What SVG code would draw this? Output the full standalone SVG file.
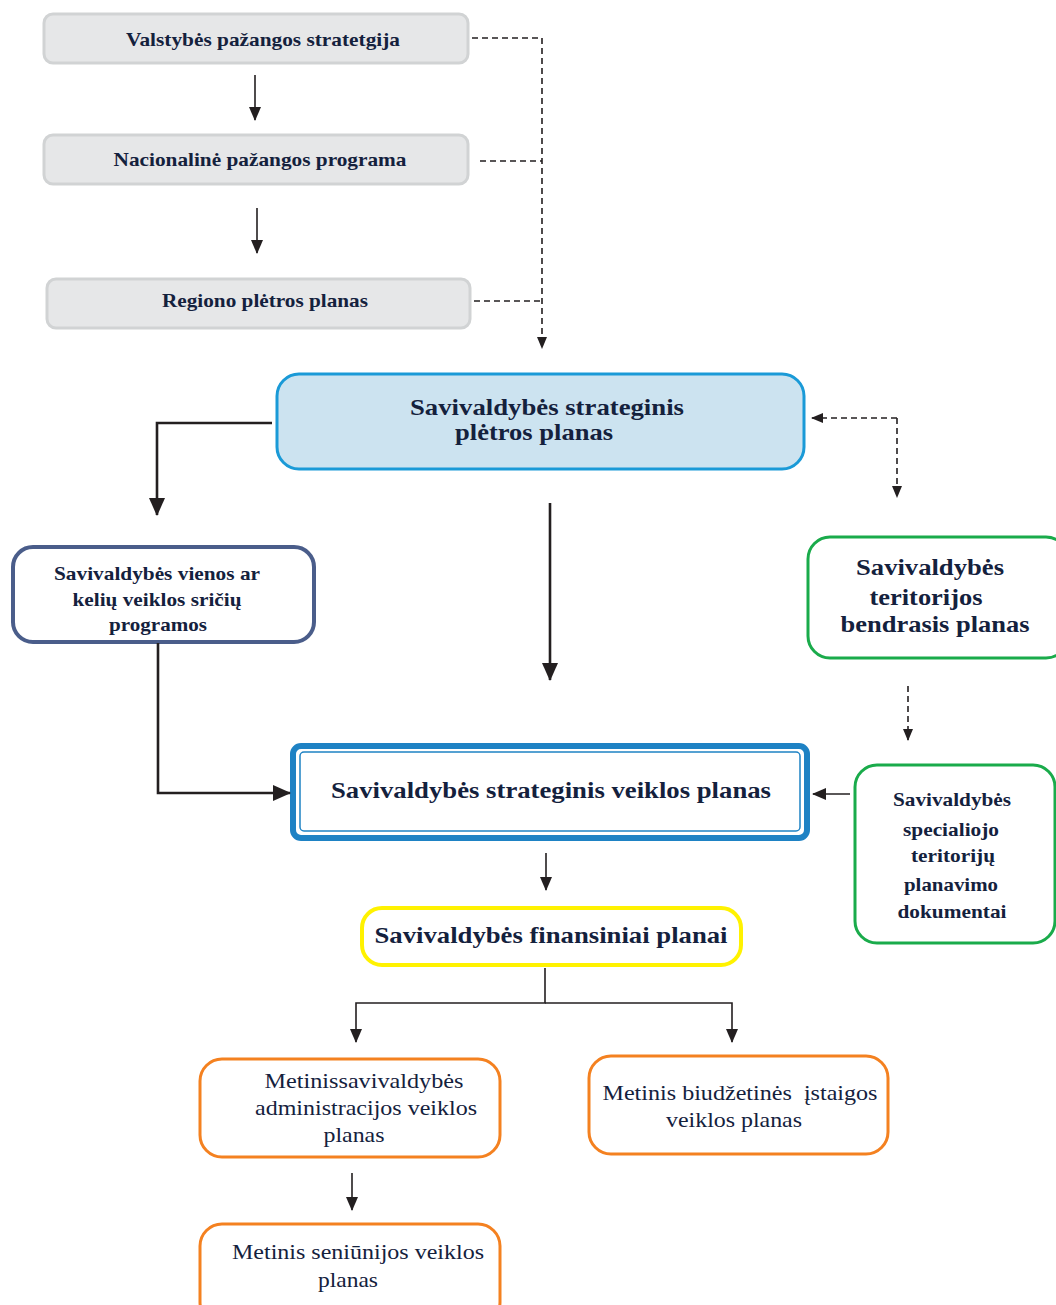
<svg xmlns="http://www.w3.org/2000/svg" width="1056" height="1305" viewBox="0 0 1056 1305">
<defs>
<marker id="ah" markerUnits="userSpaceOnUse" markerWidth="14" markerHeight="14" viewBox="0 0 14 14" refX="13" refY="7" orient="auto">
<path d="M0,1 L14,7 L0,13 Z" fill="#231f20"/>
</marker>
<marker id="ahs" markerUnits="userSpaceOnUse" markerWidth="12" markerHeight="12" viewBox="0 0 12 12" refX="11" refY="6" orient="auto">
<path d="M0,1 L12,6 L0,11 Z" fill="#231f20"/>
</marker>
<marker id="ahb" markerUnits="userSpaceOnUse" markerWidth="18" markerHeight="18" viewBox="0 0 18 18" refX="17" refY="9" orient="auto">
<path d="M0,1 L18,9 L0,17 Z" fill="#231f20"/>
</marker>
</defs>
<style>
.gray{fill:#e6e7e8;stroke:#d1d3d4;stroke-width:3}
.b{font-family:"Liberation Serif","DejaVu Serif","Noto Serif","Times New Roman",serif;font-weight:bold;fill:#14213d;text-anchor:middle}
.r{font-family:"Liberation Serif","DejaVu Serif","Noto Serif","Times New Roman",serif;fill:#14213d;text-anchor:middle;font-size:21px}
.ln{fill:none;stroke:#231f20;stroke-width:1.6}
.thick{fill:none;stroke:#231f20;stroke-width:2.6}
.dash{fill:none;stroke:#231f20;stroke-width:1.6;stroke-dasharray:6,4}
.orange{fill:#fff;stroke:#f48120;stroke-width:3}
.green{fill:#fff;stroke:#1aab4b;stroke-width:3}
</style>
<g id="n1"><rect class="gray" x="44" y="14" width="424" height="49" rx="9"/><text class="b" x="263" y="46" font-size="19" textLength="274" lengthAdjust="spacingAndGlyphs">Valstybės pažangos stratetgija</text></g>
<g id="n2"><rect class="gray" x="44" y="135" width="424" height="49" rx="9"/><text class="b" x="260" y="166" font-size="19" textLength="293" lengthAdjust="spacingAndGlyphs">Nacionalinė pažangos programa</text></g>
<g id="n3"><rect class="gray" x="47" y="279" width="423" height="49" rx="9"/><text class="b" x="265" y="307" font-size="19" textLength="206" lengthAdjust="spacingAndGlyphs">Regiono plėtros planas</text></g>
<g id="n4"><rect x="277" y="374" width="527" height="95" rx="22" fill="#cce3f0" stroke="#1a9ad7" stroke-width="3"/><text class="b" x="547" y="415" font-size="23" textLength="274" lengthAdjust="spacingAndGlyphs">Savivaldybės strateginis</text><text class="b" x="534" y="440" font-size="23" textLength="158" lengthAdjust="spacingAndGlyphs">plėtros planas</text></g>
<g id="n5"><rect x="13" y="547" width="301" height="95" rx="20" fill="#fff" stroke="#4a5d8a" stroke-width="4"/><text class="b" x="157" y="580" font-size="19" textLength="206" lengthAdjust="spacingAndGlyphs">Savivaldybės vienos ar</text><text class="b" x="157" y="606" font-size="19" textLength="169" lengthAdjust="spacingAndGlyphs">kelių veiklos sričių</text><text class="b" x="158" y="631" font-size="19" textLength="98" lengthAdjust="spacingAndGlyphs">programos</text></g>
<g id="n6"><rect class="green" x="808" y="537" width="260" height="121" rx="22"/><text class="b" x="930" y="575" font-size="24" textLength="148" lengthAdjust="spacingAndGlyphs">Savivaldybės</text><text class="b" x="926" y="605" font-size="24" textLength="113" lengthAdjust="spacingAndGlyphs">teritorijos</text><text class="b" x="935" y="632" font-size="24" textLength="189" lengthAdjust="spacingAndGlyphs">bendrasis planas</text></g>
<g id="n7"><rect class="green" x="855" y="765" width="200" height="178" rx="22"/><text class="b" x="952" y="806" font-size="19" textLength="118" lengthAdjust="spacingAndGlyphs">Savivaldybės</text><text class="b" x="951" y="836" font-size="19" textLength="96" lengthAdjust="spacingAndGlyphs">specialiojo</text><text class="b" x="953" y="862" font-size="19" textLength="84" lengthAdjust="spacingAndGlyphs">teritorijų</text><text class="b" x="951" y="891" font-size="19" textLength="94" lengthAdjust="spacingAndGlyphs">planavimo</text><text class="b" x="952" y="918" font-size="19" textLength="109" lengthAdjust="spacingAndGlyphs">dokumentai</text></g>
<g id="n8"><rect x="293" y="746" width="514" height="92" rx="8" fill="#fff" stroke="#1e82c4" stroke-width="6"/><rect x="300" y="752" width="500" height="79" rx="4" fill="#fff" stroke="#1e82c4" stroke-width="1.5"/><text class="b" x="551" y="798" font-size="24" textLength="440" lengthAdjust="spacingAndGlyphs">Savivaldybės strateginis veiklos planas</text></g>
<g id="n9"><rect x="362" y="908" width="379" height="57" rx="20" fill="#fff" stroke="#fff200" stroke-width="4"/><text class="b" x="551" y="943" font-size="24" textLength="353" lengthAdjust="spacingAndGlyphs">Savivaldybės finansiniai planai</text></g>
<g id="n10"><rect class="orange" x="200" y="1059" width="300" height="98" rx="22"/><text class="r" x="364" y="1088" textLength="199" lengthAdjust="spacingAndGlyphs">Metinissavivaldybės</text><text class="r" x="366" y="1115" textLength="222" lengthAdjust="spacingAndGlyphs">administracijos veiklos</text><text class="r" x="354" y="1142" textLength="61" lengthAdjust="spacingAndGlyphs">planas</text></g>
<g id="n11"><rect class="orange" x="589" y="1056" width="299" height="98" rx="22"/><text class="r" x="740" y="1100" textLength="275" lengthAdjust="spacingAndGlyphs" xml:space="preserve">Metinis biudžetinės  įstaigos</text><text class="r" x="734" y="1127" textLength="136" lengthAdjust="spacingAndGlyphs">veiklos planas</text></g>
<g id="n12"><rect class="orange" x="200" y="1224" width="300" height="100" rx="22"/><text class="r" x="358" y="1259" textLength="252" lengthAdjust="spacingAndGlyphs">Metinis seniūnijos veiklos</text><text class="r" x="348" y="1287" textLength="60" lengthAdjust="spacingAndGlyphs">planas</text></g>
<g id="connectors">
<path class="ln" d="M255,75 V120" marker-end="url(#ah)"/>
<path class="ln" d="M257,208 V253" marker-end="url(#ah)"/>
<path class="dash" d="M472,38 H542 V348" marker-end="url(#ahs)"/>
<path class="dash" d="M480,161 H542"/>
<path class="dash" d="M474,301 H542"/>
<path class="thick" d="M272,423 H157 V515" marker-end="url(#ahb)"/>
<path class="thick" d="M550,503 V680" marker-end="url(#ahb)"/>
<path class="dash" d="M897,418 H812" marker-end="url(#ahs)"/>
<path class="dash" d="M897,418 V497" marker-end="url(#ahs)"/>
<path class="thick" d="M158,643 V793 H290" marker-end="url(#ahb)"/>
<path class="dash" d="M908,686 V740" marker-end="url(#ahs)"/>
<path class="ln" d="M850,794 H813" marker-end="url(#ah)"/>
<path class="ln" d="M546,853 V890" marker-end="url(#ah)"/>
<path class="ln" d="M545,968 V1003 H356 V1042" marker-end="url(#ah)"/>
<path class="ln" d="M545,1003 H732 V1042" marker-end="url(#ah)"/>
<path class="ln" d="M352,1173 V1210" marker-end="url(#ah)"/>
</g>
</svg>
